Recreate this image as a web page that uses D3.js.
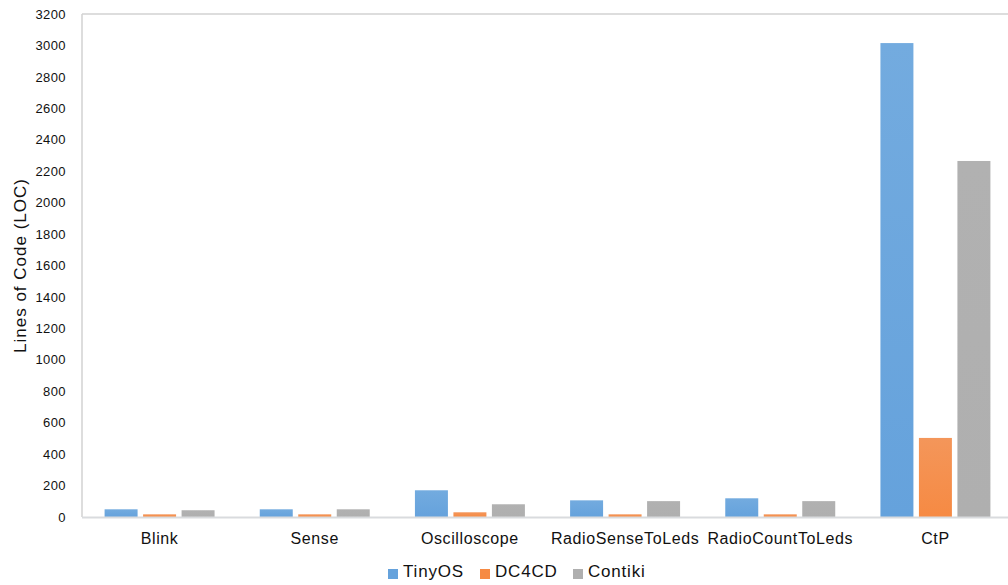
<!DOCTYPE html>
<html>
<head>
<meta charset="utf-8">
<script src="https://cdn.jsdelivr.net/npm/d3@7"></script>
<style>
  body { margin: 0; background: #fff; }
  svg text { font-family: "Liberation Sans", Arial, Helvetica, sans-serif; fill: #111; }
</style>
</head>
<body>
<svg id="chart" width="1008" height="585"></svg>
<script>
// Lines of code per application, per platform
const categories = ["Blink", "Sense", "Oscilloscope", "RadioSenseToLeds", "RadioCountToLeds", "CtP"];
const seriesNames = ["TinyOS", "DC4CD", "Contiki"];
const tinyos  = [49, 49, 170, 106, 119, 3015];
const dc4cd   = [17, 17, 30, 17, 17, 503];
const contiki = [43, 49, 81, 101, 101, 2265];
const yTicks = [0, 200, 400, 600, 800, 1000, 1200, 1400, 1600, 1800, 2000, 2200, 2400, 2600, 2800, 3000, 3200];
// top / bottom shade of each series fill
const colorTop = ["#73abdf", "#f4965a", "#b1b1b1"];
const colorBottom = ["#65a2dc", "#f68a43", "#afafaf"];

const seriesValues = [tinyos, dc4cd, contiki];
const rows = categories.map((c, i) => ({
  cat: c,
  vals: seriesNames.map((s, k) => ({ key: s, idx: k, value: seriesValues[k][i] }))
}));

const svg = d3.select("#chart");
const plotLeft = 82, plotRight = 1013, plotTop = 14, plotBottom = 517;

const defs = svg.append("defs");
seriesNames.forEach((s, k) => {
  const g = defs.append("linearGradient").attr("id", "fill" + k)
    .attr("x1", 0).attr("y1", 0).attr("x2", 0).attr("y2", 1);
  g.append("stop").attr("offset", "0%").attr("stop-color", colorTop[k]);
  g.append("stop").attr("offset", "100%").attr("stop-color", colorBottom[k]);
});

const x = d3.scaleBand().domain(categories).range([plotLeft, plotRight]).paddingInner(0).paddingOuter(0);
const xs = d3.scaleBand().domain(seriesNames).range([0, x.bandwidth()]).paddingInner(0.143).paddingOuter(0.587);
const y = d3.scaleLinear().domain([0, 3200]).range([plotBottom, plotTop]);

// frame: left and top edges
svg.append("line").attr("x1", plotLeft).attr("x2", plotLeft).attr("y1", plotTop).attr("y2", plotBottom)
  .attr("stroke", "#d2d2d2").attr("stroke-width", 1.5);
svg.append("line").attr("x1", plotLeft).attr("x2", 1008).attr("y1", plotTop).attr("y2", plotTop)
  .attr("stroke", "#d2d2d2").attr("stroke-width", 1.5);

// y axis ticks
const yAxis = d3.axisLeft(y).tickValues(yTicks).tickSize(0).tickPadding(16).tickFormat(d3.format("d"));
const gy = svg.append("g").attr("transform", `translate(${plotLeft},0)`).call(yAxis);
gy.select(".domain").remove();
gy.selectAll("text").style("font-size", "13px").style("letter-spacing", "0.4px").attr("fill", "#111");

// bars
const groups = svg.append("g").selectAll("g").data(rows).join("g")
  .attr("transform", d => `translate(${x(d.cat)},0)`);
groups.selectAll("rect").data(d => d.vals).join("rect")
  .attr("x", d => xs(d.key))
  .attr("width", xs.bandwidth())
  .attr("y", d => y(d.value))
  .attr("height", d => y(0) - y(d.value))
  .attr("fill", d => `url(#fill${d.idx})`);

// x axis
svg.append("line").attr("x1", plotLeft).attr("x2", 1008).attr("y1", plotBottom + 0.5).attr("y2", plotBottom + 0.5)
  .attr("stroke", "#d9dbde").attr("stroke-width", 2);
const xAxis = d3.axisBottom(x).tickSize(0).tickPadding(16);
const gx = svg.append("g").attr("transform", `translate(0,${plotBottom})`).call(xAxis);
gx.select(".domain").remove();
gx.selectAll("text").style("font-size", "16px").style("letter-spacing", "0.6px").attr("fill", "#111");

// y axis title
svg.append("text")
  .attr("transform", `translate(26,${(plotTop + plotBottom) / 2}) rotate(-90)`)
  .attr("text-anchor", "middle")
  .style("font-size", "17px")
  .style("letter-spacing", "1px")
  .text("Lines of Code (LOC)");

// legend
const legendItems = [
  { name: "TinyOS", x: 388 },
  { name: "DC4CD", x: 480 },
  { name: "Contiki", x: 573 }
];
const lg = svg.append("g").selectAll("g").data(legendItems).join("g")
  .attr("transform", d => `translate(${d.x},0)`);
lg.append("rect").attr("x", 0).attr("y", 569).attr("width", 10).attr("height", 10)
  .attr("fill", (d, i) => colorBottom[i]);
lg.append("text").attr("x", 15).attr("y", 577).style("font-size", "17px")
  .style("letter-spacing", "0.8px").text(d => d.name);
</script>
</body>
</html>
